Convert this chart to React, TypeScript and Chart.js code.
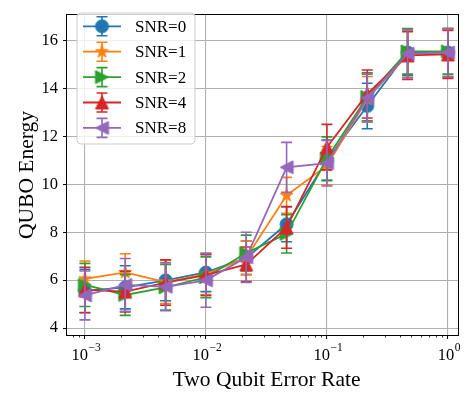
import React, { useEffect, useRef } from 'react';
import { Chart, registerables } from 'chart.js';

Chart.register(...registerables);

// ---------------- data ----------------
const errorRates = [0.001, 0.002154, 0.004642, 0.01, 0.02154, 0.04642, 0.1, 0.2154, 0.4642, 1.0];
const snrLabels = ['SNR=0', 'SNR=1', 'SNR=2', 'SNR=4', 'SNR=8'];

const energySnr0 = [5.55, 5.7, 5.99, 6.32, 6.93, 8.33, 11.0, 13.27, 15.5, 15.5];
const energySnr1 = [6.05, 6.32, 5.92, 6.25, 6.93, 9.54, 10.78, 13.55, 15.42, 15.45];
const energySnr2 = [5.8, 5.38, 5.7, 6.12, 7.13, 7.93, 11.08, 13.65, 15.55, 15.55];
const energySnr4 = [5.59, 5.52, 5.9, 6.21, 6.66, 8.2, 11.55, 13.77, 15.38, 15.42];
const energySnr8 = [5.36, 5.8, 5.72, 5.99, 6.95, 10.71, 10.88, 13.6, 15.45, 15.5];

const errSnr0 = [0.9, 0.9, 0.85, 0.8, 0.7, 0.73, 0.85, 0.95, 0.95, 1.0];
const errSnr1 = [0.75, 0.78, 0.9, 0.85, 0.7, 0.75, 0.8, 0.95, 0.95, 1.0];
const errSnr2 = [0.9, 0.85, 0.95, 0.85, 0.75, 0.8, 0.9, 1.0, 0.95, 0.95];
const errSnr4 = [0.95, 0.85, 0.95, 0.85, 0.72, 0.87, 0.95, 1.0, 1.0, 1.0];
const errSnr8 = [1.02, 1.1, 1.0, 1.12, 1.05, 1.04, 0.95, 1.0, 1.0, 1.0];

const yTickValues = [4, 6, 8, 10, 12, 14, 16];
const xTickValues = [0.001, 0.01, 0.1, 1];
const xTickExponents = ['\u22123', '\u22122', '\u22121', '0'];

const xTitle = 'Two Qubit Error Rate';
const yTitle = 'QUBO Energy';

const seriesValues = [energySnr0, energySnr1, energySnr2, energySnr4, energySnr8];
const seriesErrors = [errSnr0, errSnr1, errSnr2, errSnr4, errSnr8];
const seriesColors = ['#1f77b4', '#ff7f0e', '#2ca02c', '#d62728', '#9467bd'];
const seriesMarkers = ['circle', 'star', 'triRight', 'triUp', 'triLeft'];

const FONT = "'Liberation Serif', 'DejaVu Serif', 'Times New Roman', serif";

function makeMarker(kind: string, color: string, ms = 13): HTMLCanvasElement {
  const pad = 3;
  const s = Math.ceil(ms + pad * 2);
  const c = document.createElement('canvas');
  c.width = s;
  c.height = s;
  const ctx = c.getContext('2d')!;
  const cx = s / 2;
  const cy = s / 2;
  const r = ms / 2;
  ctx.beginPath();
  if (kind === 'circle') {
    ctx.arc(cx, cy, r, 0, Math.PI * 2);
  } else if (kind === 'star') {
    const R = r * 1.05;
    for (let k = 0; k < 10; k++) {
      const rad = k % 2 ? R * 0.381966 : R;
      const a = -Math.PI / 2 + (k * Math.PI) / 5;
      const px = cx + Math.cos(a) * rad;
      const py = cy + Math.sin(a) * rad;
      if (k === 0) ctx.moveTo(px, py);
      else ctx.lineTo(px, py);
    }
  } else if (kind === 'triUp') {
    ctx.moveTo(cx, cy - r);
    ctx.lineTo(cx - r, cy + r);
    ctx.lineTo(cx + r, cy + r);
  } else if (kind === 'triRight') {
    ctx.moveTo(cx + r, cy);
    ctx.lineTo(cx - r, cy - r);
    ctx.lineTo(cx - r, cy + r);
  } else if (kind === 'triLeft') {
    ctx.moveTo(cx - r, cy);
    ctx.lineTo(cx + r, cy - r);
    ctx.lineTo(cx + r, cy + r);
  }
  ctx.closePath();
  ctx.fillStyle = color;
  ctx.fill();
  ctx.lineWidth = 1;
  ctx.strokeStyle = color;
  ctx.stroke();
  return c;
}

const LINE_W = 1.8;
const CAP = 5.5;

export default function App() {
  const canvasRef = useRef<HTMLCanvasElement | null>(null);

  useEffect(() => {
    document.body.style.margin = '0';
    const canvas = canvasRef.current;
    if (!canvas) return;

    const markerImgs = seriesMarkers.map((m, i) => makeMarker(m, seriesColors[i]));

    const datasets = seriesValues.map((vals, i) => ({
      label: snrLabels[i],
      data: vals.map((v, j) => ({ x: errorRates[j], y: v })),
      borderColor: seriesColors[i],
      backgroundColor: seriesColors[i],
      borderWidth: LINE_W,
      pointStyle: markerImgs[i] as any,
      pointRadius: 6,
      pointHoverRadius: 6,
      tension: 0,
      fill: false,
      order: seriesValues.length - i,
    }));

    const errorBarPlugin = {
      id: 'errorBars',
      beforeDatasetDraw(chart: any, args: any) {
        const i = args.index;
        const xs = chart.scales.x;
        const ys = chart.scales.y;
        const ctx = chart.ctx;
        const area = chart.chartArea;
        ctx.save();
        ctx.beginPath();
        ctx.rect(area.left, area.top, area.right - area.left, area.bottom - area.top);
        ctx.clip();
        ctx.strokeStyle = seriesColors[i];
        ctx.lineWidth = 1.6;
        seriesValues[i].forEach((v, j) => {
          const e = seriesErrors[i][j];
          const px = xs.getPixelForValue(errorRates[j]);
          const top = ys.getPixelForValue(v + e);
          const bot = ys.getPixelForValue(v - e);
          ctx.beginPath();
          ctx.moveTo(px, top);
          ctx.lineTo(px, bot);
          ctx.moveTo(px - CAP, top);
          ctx.lineTo(px + CAP, top);
          ctx.moveTo(px - CAP, bot);
          ctx.lineTo(px + CAP, bot);
          ctx.stroke();
        });
        ctx.restore();
      },
    };

    const decorPlugin = {
      id: 'decor',
      afterDatasetsDraw(chart: any) {
        const ctx = chart.ctx;
        const a = chart.chartArea;
        const xs = chart.scales.x;
        ctx.save();
        // frame
        ctx.strokeStyle = '#000';
        ctx.lineWidth = 1;
        ctx.strokeRect(Math.round(a.left) - 0.5, Math.round(a.top) - 0.5, Math.round(a.right - a.left) + 1, Math.round(a.bottom - a.top) + 1);
        // minor ticks
        ctx.lineWidth = 0.8;
        ctx.beginPath();
        for (let d = -4; d <= 0; d++) {
          for (let m = 2; m <= 9; m++) {
            const v = m * Math.pow(10, d);
            if (v < xs.min || v > xs.max) continue;
            const px = Math.round(xs.getPixelForValue(v)) + 0.5;
            ctx.moveTo(px, a.bottom);
            ctx.lineTo(px, a.bottom + 2.5);
          }
        }
        ctx.stroke();
        // x tick labels 10^n
        ctx.fillStyle = '#000';
        ctx.textBaseline = 'alphabetic';
        xTickValues.forEach((v, k) => {
          const px = xs.getPixelForValue(v);
          ctx.font = `16.5px ${FONT}`;
          const wBase = ctx.measureText('10').width;
          ctx.font = `11.5px ${FONT}`;
          const wExp = ctx.measureText(xTickExponents[k]).width;
          const start = px - (wBase + wExp) / 2 + 1;
          ctx.font = `16.5px ${FONT}`;
          ctx.textAlign = 'left';
          ctx.fillText('10', start, 360);
          ctx.font = `11.5px ${FONT}`;
          ctx.fillText(xTickExponents[k], start + wBase + 0.5, 351);
        });
        // axis titles
        ctx.font = `21.5px ${FONT}`;
        ctx.textAlign = 'center';
        ctx.fillText(xTitle, (a.left + a.right) / 2 + 4, 386);
        ctx.save();
        ctx.translate(33, (a.top + a.bottom) / 2);
        ctx.rotate(-Math.PI / 2);
        ctx.fillText(yTitle, 0, 0);
        ctx.restore();

        // legend
        const bx = 77, by = 13, bw = 118, bh = 131, rr = 4;
        ctx.beginPath();
        ctx.moveTo(bx + rr, by);
        ctx.arcTo(bx + bw, by, bx + bw, by + bh, rr);
        ctx.arcTo(bx + bw, by + bh, bx, by + bh, rr);
        ctx.arcTo(bx, by + bh, bx, by, rr);
        ctx.arcTo(bx, by, bx + bw, by, rr);
        ctx.closePath();
        ctx.fillStyle = 'rgba(255,255,255,0.8)';
        ctx.fill();
        ctx.strokeStyle = '#cccccc';
        ctx.lineWidth = 1;
        ctx.stroke();
        snrLabels.forEach((lab, i) => {
          const cy = 26.3 + i * 25.4;
          const cxm = 102;
          ctx.strokeStyle = seriesColors[i];
          ctx.lineWidth = 1.6;
          ctx.beginPath();
          ctx.moveTo(cxm, cy - 9.5);
          ctx.lineTo(cxm, cy + 9.5);
          ctx.moveTo(cxm - CAP, cy - 9.5);
          ctx.lineTo(cxm + CAP, cy - 9.5);
          ctx.moveTo(cxm - CAP, cy + 9.5);
          ctx.lineTo(cxm + CAP, cy + 9.5);
          ctx.stroke();
          ctx.lineWidth = LINE_W;
          ctx.beginPath();
          ctx.moveTo(83, cy);
          ctx.lineTo(121, cy);
          ctx.stroke();
          const img = markerImgs[i];
          ctx.drawImage(img, cxm - img.width / 2, cy - img.height / 2);
          ctx.fillStyle = '#000';
          ctx.font = `17px ${FONT}`;
          ctx.textAlign = 'left';
          ctx.textBaseline = 'middle';
          ctx.fillText(lab, 135, cy + 1);
        });
        ctx.restore();
      },
    };

    const chart = new Chart(canvas, {
      type: 'line',
      data: { datasets: datasets as any },
      options: {
        animation: false,
        responsive: false,
        events: [],
        layout: { padding: { top: 3, right: 5, left: 0, bottom: 0 } },
        plugins: { legend: { display: false }, title: { display: false }, tooltip: { enabled: false } },
        scales: {
          x: {
            type: 'logarithmic',
            min: 0.000711,
            max: 1.216,
            afterBuildTicks: (scale: any) => {
              scale.ticks = xTickValues.map((v) => ({ value: v }));
            },
            afterFit: (scale: any) => {
              scale.height = 60;
            },
            ticks: { callback: () => '', autoSkip: false, maxRotation: 0 },
            grid: { color: '#b0b0b0', lineWidth: 1.1, tickColor: '#000', tickLength: 4, tickWidth: 1 },
            border: { display: false },
          },
          y: {
            type: 'linear',
            min: 3.71,
            max: 17.07,
            afterBuildTicks: (scale: any) => {
              scale.ticks = yTickValues.map((v) => ({ value: v }));
            },
            afterFit: (scale: any) => {
              scale.width = 67;
            },
            ticks: {
              color: '#000',
              padding: 5,
              font: { family: FONT, size: 16.5 },
              callback: (v: any) => String(v),
            },
            grid: { color: '#b0b0b0', lineWidth: 1.1, tickColor: '#000', tickLength: 4, tickWidth: 1 },
            border: { display: false },
          },
        },
      },
      plugins: [errorBarPlugin, decorPlugin],
    });

    return () => {
      chart.destroy();
    };
  }, []);

  return (
    <canvas
      ref={canvasRef}
      width={466}
      height={395}
      style={{ display: 'block', width: '466px', height: '395px' }}
    />
  );
}
